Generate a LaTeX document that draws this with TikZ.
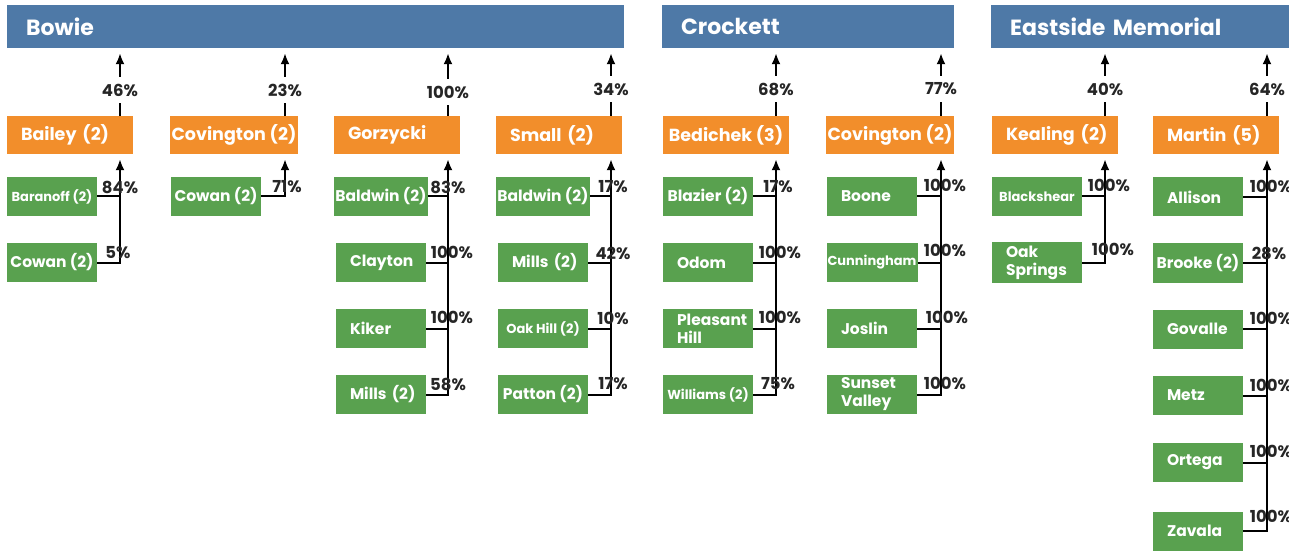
\documentclass[tikz,border=0pt]{standalone}
\usepackage{fontspec}
\setmainfont{Poppins}
\usetikzlibrary{arrows.meta}
\definecolor{barblue}{HTML}{4E79A7}
\definecolor{feedorange}{HTML}{F28E2B}
\definecolor{kidgreen}{HTML}{59A14F}
\definecolor{pcttext}{HTML}{262626}
\tikzset{
  district/.style={fill=barblue, text=white, font=\fontsize{22}{26}\selectfont\bfseries,
    minimum height=43pt, inner xsep=19pt, align=left, anchor=west},
  feederbase/.style={fill=feedorange, text=white, font=\fontsize{17.5}{21}\selectfont\bfseries,
    minimum height=38pt},
  feeder/.style={feederbase, text width=98pt, inner xsep=14pt, align=left},
  feederwide/.style={feederbase, minimum width=126pt, inner xsep=2pt, align=center},
  kidbase/.style={fill=kidgreen, text=white, font=\fontsize{15.5}{18}\selectfont\bfseries,
    minimum height=39pt},
  kid/.style={kidbase, text width=62pt, inner xsep=14pt, align=left},
  kidwide/.style={kidbase, minimum width=90pt, inner xsep=1pt, align=center},
  kidsmall/.style={kidwide, font=\fontsize{13}{16}\selectfont\bfseries},
  pct/.style={text=pcttext, font=\fontsize{16.5}{19}\selectfont\bfseries, inner sep=0pt},
  toppct/.style={pct, fill=white, inner ysep=7pt, inner xsep=1pt},
  link/.style={line width=2pt},
  up/.style={link, -{Latex[length=11pt,width=9pt]}, shorten >=5pt}
}
\begin{document}
\begin{tikzpicture}[x=1pt,y=-1pt]
\useasboundingbox (0,0) rectangle (1289,553);
% districts
\node[district, text width=579pt] (bowie) at (7,26.5) {Bowie};
\node[district, text width=254pt] (crockett) at (662,26.5) {Crockett};
\node[district, text width=260pt] (eastside) at (991,26.5) {Eastside Memorial};
% feeder schools
\node[feeder] (bailey) at (70,135) {Bailey~(2)};
\node[feederwide] (covington) at (234,135) {Covington (2)};
\node[feeder] (gorzycki) at (397,135) {Gorzycki};
\node[feeder] (small) at (559,135) {Small~(2)};
\node[feederwide] (bedichek) at (726,135) {Bedichek (3)};
\node[feederwide] (covtwo) at (890,135) {Covington (2)};
\node[feeder] (kealing) at (1055,135) {Kealing~(2)};
\node[feeder] (martin) at (1216,135) {Martin~(5)};
% shares to the district
\node[toppct] (baileyp) at (120,90) {46\%};
\node[toppct] (covingtonp) at (285,90) {23\%};
\node[toppct] (gorzyckip) at (448,92) {100\%};
\node[toppct] (smallp) at (611,89) {34\%};
\node[toppct] (bedichekp) at (776,89) {68\%};
\node[toppct] (covtwop) at (941,89) {77\%};
\node[toppct] (kealingp) at (1105,89) {40\%};
\node[toppct] (martinp) at (1267,89) {64\%};
\draw[link] (bailey.north -| baileyp) -- (baileyp);
\draw[up] (baileyp) -- (baileyp |- bowie.south);
\draw[link] (covington.north -| covingtonp) -- (covingtonp);
\draw[up] (covingtonp) -- (covingtonp |- bowie.south);
\draw[link] (gorzycki.north -| gorzyckip) -- (gorzyckip);
\draw[up] (gorzyckip) -- (gorzyckip |- bowie.south);
\draw[link] (small.north -| smallp) -- (smallp);
\draw[up] (smallp) -- (smallp |- bowie.south);
\draw[link] (bedichek.north -| bedichekp) -- (bedichekp);
\draw[up] (bedichekp) -- (bedichekp |- crockett.south);
\draw[link] (covtwo.north -| covtwop) -- (covtwop);
\draw[up] (covtwop) -- (covtwop |- crockett.south);
\draw[link] (kealing.north -| kealingp) -- (kealingp);
\draw[up] (kealingp) -- (kealingp |- eastside.south);
\draw[link] (martin.north -| martinp) -- (martinp);
\draw[up] (martinp) -- (martinp |- eastside.south);
% elementary schools, Bowie
\node[kidsmall] (b1) at (52,196.5) {Baranoff (2)};
\node[kidwide] (b2) at (52,262.5) {Cowan (2)};
\draw[link] (b1.east) -- (b1.east -| baileyp);
\draw[up] (b2.east) -| (baileyp |- bailey.south);
\node[pct] (b1p) at (120,187) {84\%};
\node[pct] (b2p) at (118,253) {5\%};
\node[kidwide] (c1) at (216,196.5) {Cowan (2)};
\draw[up] (c1.east) -| (covingtonp |- covington.south);
\node[pct] (c1p) at (287,187) {71\%};
\node[kidwide] (g1) at (381,196.5) {Baldwin (2)};
\node[kid] (g2) at (381,262.5) {Clayton};
\node[kid] (g3) at (381,328.5) {Kiker};
\node[kid] (g4) at (381,394.5) {Mills~(2)};
\draw[link] (g1.east) -- (g1.east -| gorzyckip);
\draw[link] (g2.east) -- (g2.east -| gorzyckip);
\draw[link] (g3.east) -- (g3.east -| gorzyckip);
\draw[up] (g4.east) -| (gorzyckip |- gorzycki.south);
\node[pct] (g1p) at (448,187) {83\%};
\node[pct] (g2p) at (452,252) {100\%};
\node[pct] (g3p) at (452,317) {100\%};
\node[pct] (g4p) at (448,384) {58\%};
\node[kidwide] (s1) at (543,196.5) {Baldwin (2)};
\node[kid] (s2) at (543,262.5) {Mills~(2)};
\node[kidsmall] (s3) at (543,328.5) {Oak Hill (2)};
\node[kidwide] (s4) at (543,394.5) {Patton (2)};
\draw[link] (s1.east) -- (s1.east -| smallp);
\draw[link] (s2.east) -- (s2.east -| smallp);
\draw[link] (s3.east) -- (s3.east -| smallp);
\draw[up] (s4.east) -| (smallp |- small.south);
\node[pct] (s1p) at (613,187) {17\%};
\node[pct] (s2p) at (613,253) {42\%};
\node[pct] (s3p) at (613,318) {10\%};
\node[pct] (s4p) at (613,384) {17\%};
% elementary schools, Crockett
\node[kidwide] (d1) at (708,196.5) {Blazier (2)};
\node[kid] (d2) at (708,262.5) {Odom};
\node[kid] (d3) at (708,328.5) {Pleasant\\Hill};
\node[kidsmall] (d4) at (708,394.5) {Williams (2)};
\draw[link] (d1.east) -- (d1.east -| bedichekp);
\draw[link] (d2.east) -- (d2.east -| bedichekp);
\draw[link] (d3.east) -- (d3.east -| bedichekp);
\draw[up] (d4.east) -| (bedichekp |- bedichek.south);
\node[pct] (d1p) at (778,187) {17\%};
\node[pct] (d2p) at (780,252) {100\%};
\node[pct] (d3p) at (780,317) {100\%};
\node[pct] (d4p) at (778,384) {75\%};
\node[kid] (v1) at (872,196.5) {Boone};
\node[kidsmall] (v2) at (872,262.5) {Cunningham};
\node[kid] (v3) at (872,328.5) {Joslin};
\node[kid] (v4) at (872,394.5) {Sunset\\Valley};
\draw[link] (v1.east) -- (v1.east -| covtwop);
\draw[link] (v2.east) -- (v2.east -| covtwop);
\draw[link] (v3.east) -- (v3.east -| covtwop);
\draw[up] (v4.east) -| (covtwop |- covtwo.south);
\node[pct] (v1p) at (945,185) {100\%};
\node[pct] (v2p) at (945,250) {100\%};
\node[pct] (v3p) at (947,317) {100\%};
\node[pct] (v4p) at (945,383) {100\%};
% elementary schools, Eastside Memorial
\node[kidsmall] (k1) at (1037,196.5) {Blackshear};
\node[kid] (k2) at (1037,262.5) {Oak\\Springs};
\draw[link] (k1.east) -- (k1.east -| kealingp);
\draw[up] (k2.east) -| (kealingp |- kealing.south);
\node[pct] (k1p) at (1109,185) {100\%};
\node[pct] (k2p) at (1113,249) {100\%};
\node[kid] (m1) at (1198,197) {Allison};
\node[kidwide] (m2) at (1198,263) {Brooke (2)};
\node[kid] (m3) at (1198,329) {Govalle};
\node[kid] (m4) at (1198,395.5) {Metz};
\node[kid] (m5) at (1198,462.5) {Ortega};
\node[kid] (m6) at (1198,531) {Zavala};
\draw[link] (m1.east) -- (m1.east -| martinp);
\draw[link] (m2.east) -- (m2.east -| martinp);
\draw[link] (m3.east) -- (m3.east -| martinp);
\draw[link] (m4.east) -- (m4.east -| martinp);
\draw[link] (m5.east) -- (m5.east -| martinp);
\draw[up] (m6.east) -| (martinp |- martin.south);
\node[pct] (m1p) at (1271,186) {100\%};
\node[pct] (m2p) at (1269,253) {28\%};
\node[pct] (m3p) at (1271,318) {100\%};
\node[pct] (m4p) at (1271,385) {100\%};
\node[pct] (m5p) at (1271,451) {100\%};
\node[pct] (m6p) at (1271,516) {100\%};
\end{tikzpicture}
\end{document}
